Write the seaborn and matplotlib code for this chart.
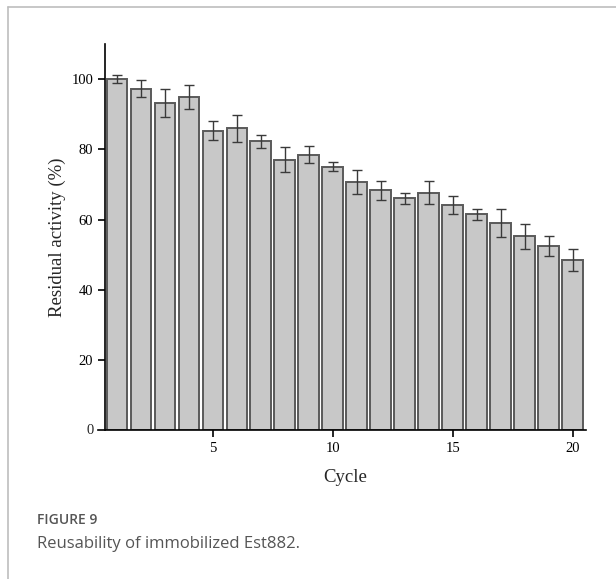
import numpy as np
import pandas as pd
import matplotlib
matplotlib.use("Agg")
import matplotlib.pyplot as plt
import seaborn as sns
from matplotlib.lines import Line2D

cycles = list(range(1, 21))
activity = [100.0, 97.3, 93.1, 94.9, 85.3, 86.0, 82.3, 77.1, 78.5, 75.0,
            70.7, 68.3, 66.0, 67.6, 64.2, 61.5, 59.1, 55.2, 52.5, 48.4]
error = [1.2, 2.5, 4.0, 3.5, 2.7, 3.8, 1.9, 3.5, 2.5, 1.3,
         3.4, 2.7, 1.6, 3.3, 2.5, 1.5, 4.0, 3.6, 2.8, 3.1]

df = pd.DataFrame({"cycle": cycles, "activity": activity, "err": error})

sns.set_theme(style="white")
plt.rcParams["font.family"] = ["Liberation Serif", "DejaVu Serif"]

fig = plt.figure(figsize=(6.16, 5.79), dpi=100)
ax = fig.add_axes([105 / 616, 0.257, 481 / 616, 0.667])

sns.barplot(data=df, x="cycle", y="activity", native_scale=True,
            color="#c8c8c8", saturation=1, width=0.87,
            edgecolor="#5a5a5a", linewidth=1.4, ax=ax)
ax.errorbar(df["cycle"], df["activity"], yerr=df["err"], fmt="none",
            ecolor="#3a3a3a", elinewidth=1.0, capsize=3.5, capthick=1.0)

ax.set_xlim(0.5, 20.55)
ax.set_ylim(0, 110)
ax.set_xticks([5, 10, 15, 20])
ax.set_yticks([20, 40, 60, 80, 100])
ax.tick_params(axis="both", direction="out", length=5, width=1.2,
               labelsize=10.5, colors="black", bottom=True, left=True)
ax.set_xlabel("Cycle", fontsize=13.5, labelpad=10)
ax.set_ylabel("Residual activity (%)", fontsize=13.5, labelpad=4)
sns.despine(ax=ax)
for s in ["left", "bottom"]:
    ax.spines[s].set_color("black")
    ax.spines[s].set_linewidth(1.2)
# x axis line runs past the y axis to form the zero tick
ax.spines["bottom"].set_bounds(0.5 - 7 / 24, 20.55)
ax.spines["bottom"].set_clip_on(False)
ax.text(0.5 - 7 / 24 - 0.18, 0, "0", fontsize=10.5, ha="right", va="center")

# page frame
fig.add_artist(Line2D([8 / 616, 1], [1 - 7 / 579, 1 - 7 / 579],
                      color="#bdbdbd", lw=1.2, transform=fig.transFigure))
fig.add_artist(Line2D([8 / 616, 8 / 616], [0, 1 - 7 / 579],
                      color="#bdbdbd", lw=1.2, transform=fig.transFigure))

fig.text(37 / 616, 1 - 520 / 579, "FIGURE 9", fontsize=10, color="#555555",
         family=["Open Sans", "DejaVu Sans"], fontweight="semibold",
         va="center")
fig.text(37 / 616, 1 - 544 / 579, "Reusability of immobilized Est882.",
         fontsize=12, color="#555555", family=["Open Sans", "DejaVu Sans"],
         va="center")

fig.savefig("out.png", dpi=100)
